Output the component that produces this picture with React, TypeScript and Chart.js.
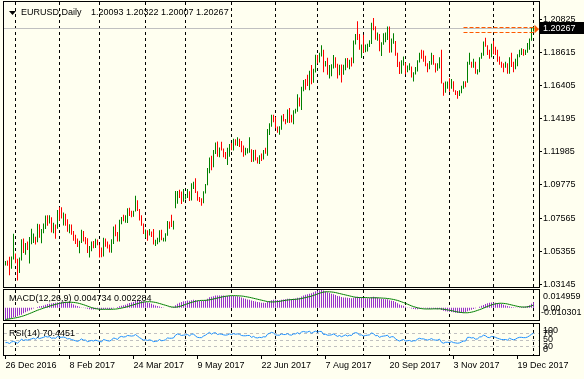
import React, { useEffect, useRef } from "react";
import { Chart, registerables } from "chart.js";

Chart.register(...registerables);

// ---------------- DATA ----------------
const symbol = "EURUSD,Daily";
const firstOpen = 1.045;

const highs = [
  1.0470,1.0474,1.0498,1.0500,1.0652,1.0520,1.0485,1.0494,1.0615,1.0620,
  1.0590,1.0600,1.0630,1.0685,1.0653,1.0632,1.0719,1.0716,1.0683,1.0721,
  1.0774,1.0775,1.0775,1.0762,1.0726,1.0713,1.0810,1.0829,1.0829,1.0793,
  1.0785,1.0749,1.0716,1.0713,1.0670,1.0645,1.0621,1.0606,1.0679,1.0670,
  1.0630,1.0622,1.0570,1.0600,1.0603,1.0618,1.0613,1.0578,1.0560,1.0626,
  1.0620,1.0600,1.0580,1.0615,1.0700,1.0713,1.0663,1.0746,1.0764,1.0779,
  1.0775,1.0822,1.0826,1.0805,1.0805,1.0906,1.0875,1.0817,1.0775,1.0720,
  1.0680,1.0675,1.0683,1.0667,1.0683,1.0612,1.0626,1.0675,1.0678,1.0625,
  1.0655,1.0737,1.0734,1.0778,1.0738,1.0937,1.0937,1.0946,1.0933,1.0950,
  1.0909,1.0950,1.0935,1.0988,1.0998,1.1022,1.0935,1.0897,1.0888,1.0936,
  1.0984,1.1090,1.1160,1.1172,1.1211,1.1260,1.1268,1.1227,1.1265,1.1220,
  1.1198,1.1225,1.1250,1.1257,1.1285,1.1282,1.1296,1.1285,1.1270,1.1240,
  1.1225,1.1223,1.1296,1.1215,1.1210,1.1213,1.1163,1.1175,1.1188,1.1210,
  1.1225,1.1350,1.1389,1.1445,1.1446,1.1430,1.1368,1.1369,1.1440,1.1450,
  1.1418,1.1480,1.1490,1.1445,1.1475,1.1486,1.1583,1.1560,1.1632,1.1678,
  1.1685,1.1712,1.1740,1.1777,1.1752,1.1846,1.1845,1.1860,1.1910,1.1880,
  1.1805,1.1826,1.1778,1.1783,1.1845,1.1830,1.1786,1.1780,1.1781,1.1780,
  1.1822,1.1825,1.1812,1.1828,1.1941,1.1984,1.2070,1.1985,1.1915,1.1980,
  1.1915,1.1920,1.1942,1.2060,1.2092,1.2036,1.1995,1.1985,1.1930,1.1990,
  1.1995,1.2035,1.2035,1.1955,1.1990,1.1938,1.1860,1.1800,1.1810,1.1835,
  1.1795,1.1775,1.1790,1.1768,1.1730,1.1765,1.1810,1.1860,1.1880,1.1875,
  1.1840,1.1790,1.1805,1.1860,1.1845,1.1790,1.1790,1.1830,1.1880,1.1660,
  1.1668,1.1668,1.1690,1.1685,1.1670,1.1610,1.1605,1.1610,1.1640,1.1670,
  1.1670,1.1800,1.1860,1.1800,1.1820,1.1800,1.1750,1.1830,1.1860,1.1935,
  1.1960,1.1910,1.1880,1.1920,1.1940,1.1900,1.1880,1.1835,1.1800,1.1790,
  1.1800,1.1790,1.1830,1.1860,1.1800,1.1820,1.1850,1.1880,1.1890,1.1885,
  1.1880,1.1925,1.1955,1.2030,1.20322,
];

const lows = [
  1.0440,1.0438,1.0375,1.0418,1.0480,1.0455,1.0340,1.0390,1.0474,1.0523,
  1.0512,1.0543,1.0453,1.0582,1.0590,1.0580,1.0596,1.0625,1.0589,1.0656,
  1.0683,1.0705,1.0720,1.0660,1.0656,1.0618,1.0685,1.0738,1.0753,1.0707,
  1.0706,1.0666,1.0656,1.0645,1.0605,1.0583,1.0563,1.0521,1.0590,1.0601,
  1.0581,1.0523,1.0494,1.0535,1.0555,1.0556,1.0575,1.0494,1.0495,1.0500,
  1.0565,1.0554,1.0526,1.0525,1.0584,1.0635,1.0600,1.0600,1.0715,1.0735,
  1.0725,1.0723,1.0770,1.0762,1.0766,1.0800,1.0803,1.0740,1.0705,1.0650,
  1.0626,1.0605,1.0640,1.0630,1.0580,1.0570,1.0582,1.0596,1.0609,1.0600,
  1.0600,1.0638,1.0685,1.0697,1.0680,1.0822,1.0852,1.0890,1.0851,1.0866,
  1.0880,1.0891,1.0870,1.0873,1.0951,1.0924,1.0872,1.0864,1.0838,1.0855,
  1.0921,1.0976,1.1055,1.1075,1.1095,1.1184,1.1166,1.1162,1.1207,1.1163,
  1.1150,1.1110,1.1165,1.1209,1.1208,1.1241,1.1238,1.1231,1.1195,1.1165,
  1.1175,1.1187,1.1193,1.1130,1.1133,1.1140,1.1120,1.1118,1.1137,1.1147,
  1.1185,1.1173,1.1310,1.1365,1.1395,1.1355,1.1325,1.1312,1.1346,1.1400,
  1.1382,1.1392,1.1390,1.1394,1.1383,1.1454,1.1465,1.1500,1.1478,1.1603,
  1.1612,1.1638,1.1610,1.1650,1.1660,1.1727,1.1788,1.1795,1.1835,1.1729,
  1.1768,1.1713,1.1688,1.1703,1.1755,1.1760,1.1688,1.1710,1.1661,1.1713,
  1.1742,1.1760,1.1750,1.1768,1.1790,1.1915,1.1945,1.1880,1.1825,1.1860,
  1.1862,1.1868,1.1898,1.1917,1.2010,1.1946,1.1940,1.1870,1.1837,1.1913,
  1.1930,1.1945,1.1860,1.1861,1.1920,1.1840,1.1764,1.1717,1.1720,1.1774,
  1.1716,1.1730,1.1743,1.1695,1.1668,1.1715,1.1735,1.1795,1.1820,1.1800,
  1.1770,1.1730,1.1750,1.1780,1.1780,1.1727,1.1740,1.1755,1.1655,1.1573,
  1.1592,1.1620,1.1600,1.1620,1.1600,1.1577,1.1553,1.1570,1.1590,1.1620,
  1.1630,1.1660,1.1780,1.1760,1.1760,1.1720,1.1715,1.1730,1.1820,1.1840,
  1.1900,1.1845,1.1820,1.1830,1.1850,1.1845,1.1800,1.1780,1.1760,1.1730,
  1.1760,1.1720,1.1720,1.1765,1.1730,1.1750,1.1770,1.1830,1.1845,1.1840,
  1.1845,1.1860,1.1880,1.1940,1.20007,
];

const closes = [
  1.0456,1.0454,1.0410,1.0494,1.0517,1.0457,1.0403,1.0487,1.0605,1.0531,
  1.0575,1.0555,1.0585,1.0613,1.0644,1.0605,1.0710,1.0633,1.0661,1.0702,
  1.0757,1.0728,1.0748,1.0678,1.0697,1.0690,1.0797,1.0765,1.0762,1.0784,
  1.0748,1.0685,1.0700,1.0665,1.0640,1.0600,1.0577,1.0602,1.0670,1.0616,
  1.0614,1.0542,1.0562,1.0588,1.0562,1.0606,1.0575,1.0545,1.0505,1.0620,
  1.0585,1.0566,1.0544,1.0581,1.0673,1.0653,1.0604,1.0734,1.0762,1.0736,
  1.0742,1.0808,1.0797,1.0783,1.0798,1.0865,1.0815,1.0765,1.0717,1.0652,
  1.0667,1.0640,1.0665,1.0643,1.0590,1.0599,1.0610,1.0665,1.0613,1.0617,
  1.0643,1.0730,1.0715,1.0714,1.0726,1.0856,1.0930,1.0908,1.0872,1.0895,
  1.0903,1.0930,1.0880,1.0982,1.0997,1.0926,1.0875,1.0870,1.0864,1.0932,
  1.0980,1.1080,1.1158,1.1100,1.1207,1.1245,1.1180,1.1218,1.1213,1.1180,
  1.1163,1.1180,1.1244,1.1215,1.1280,1.1255,1.1278,1.1260,1.1213,1.1196,
  1.1200,1.1210,1.1215,1.1150,1.1197,1.1150,1.1132,1.1165,1.1152,1.1195,
  1.1185,1.1335,1.1375,1.1444,1.1425,1.1362,1.1347,1.1350,1.1421,1.1400,
  1.1398,1.1467,1.1415,1.1398,1.1469,1.1477,1.1557,1.1514,1.1632,1.1665,
  1.1645,1.1644,1.1738,1.1677,1.1750,1.1836,1.1805,1.1858,1.1865,1.1774,
  1.1793,1.1753,1.1756,1.1765,1.1820,1.1780,1.1730,1.1770,1.1725,1.1760,
  1.1815,1.1760,1.1808,1.1798,1.1925,1.1978,1.1968,1.1886,1.1910,1.1860,
  1.1890,1.1915,1.1920,1.2055,1.2035,1.1950,1.1966,1.1885,1.1920,1.1943,
  1.1950,1.1994,1.1893,1.1940,1.1950,1.1850,1.1790,1.1745,1.1785,1.1815,
  1.1732,1.1745,1.1760,1.1710,1.1730,1.1735,1.1808,1.1855,1.1825,1.1820,
  1.1790,1.1765,1.1790,1.1840,1.1785,1.1760,1.1762,1.1815,1.1655,1.1608,
  1.1640,1.1645,1.1620,1.1660,1.1610,1.1600,1.1590,1.1595,1.1630,1.1665,
  1.1662,1.1795,1.1796,1.1770,1.1790,1.1725,1.1738,1.1826,1.1845,1.1930,
  1.1910,1.1845,1.1840,1.1905,1.1895,1.1865,1.1830,1.1795,1.1775,1.1770,
  1.1775,1.1740,1.1825,1.1780,1.1750,1.1785,1.1840,1.1870,1.1873,1.1860,
  1.1865,1.1890,1.1945,1.20093,1.20267,
];

// MACD(12,26,9) main (histogram) and signal, in units of 0.0001
const macdMain = [
  -103.01,-98,-92,-88,-80,-75,-72,-64,-58,-47,-38,-30,-22,-14,-7,0,
  6,12,14,20,26,32,34,36,40,42,45,48,
  50,51,50,48,42,35,28,20,14,8,
  3,-1,-4,-9,-13,-14,-14,-12,-11,-13,-16,-12,-11,-12,-14,-11,-4,0,6,
  12,18,22,26,34,40,44,48,56,60,61,58,52,48,
  45,40,34,26,20,14,10,6,3,1,0,3,5,8,
  22,34,42,48,54,58,61,60,64,68,66,62,58,56,60,66,
  76,88,92,98,104,104,104,104,103,100,100,102,100,100,98,96,92,86,80,76,
  70,68,62,58,53,48,46,42,42,40,48,56,64,68,68,66,64,68,70,72,
  76,76,74,76,78,84,84,94,104,110,114,118,122,130,140,144,148,149.59,146,138,
  130,124,118,114,108,100,96,90,86,86,84,82,80,84,90,92,88,86,82,80,
  80,80,88,92,88,84,78,76,74,72,72,64,60,56,48,38,28,22,16,8,
  2,-2,-6,-10,-12,-12,-8,-6,-5,-7,-9,-10,-8,-9,-11,-12,-10,-18,-26,-30,
  -32,-34,-35,-38,-41,-44,-45,-44,-42,-38,-30,-22,-16,-10,-5,0,8,16,24,32,
  38,42,44,44,42,40,36,32,26,20,14,10,6,4,2,2,4,6,8,10,14,22,33,47.34,
];

const macdSignal = [
  -98,-96,-94,-91,-88,-85,-82,-78,-73,-68,-62,-56,-49,-42,-35,-28,
  -21,-15,-9,-3,2,8,14,19,24,28,33,37,
  40,43,45,46,47,46,45,43,40,36,
  31,26,20,14,8,2,-3,-7,-10,-12,-13,-13,-13,-13,-13,-13,-12,-11,-9,
  -6,-3,1,5,10,15,20,25,30,35,40,44,48,50,
  51,51,50,48,45,41,36,31,26,21,16,11,7,5,
  5,7,11,16,22,28,34,40,45,50,54,58,61,62,62,63,
  64,67,70,74,78,82,86,90,94,97,99,101,102,102,102,101,100,99,97,94,
  91,88,84,80,76,72,68,64,60,56,52,50,49,49,50,52,54,57,60,63,
  65,67,69,70,71,73,75,78,82,86,90,94,98,104,110,116,122,128,132,134,
  135,134,133,131,128,124,120,116,112,108,104,100,96,92,89,87,86,86,86,86,
  85,84,84,84,84,84,83,82,81,80,78,76,73,70,66,62,56,50,44,37,
  30,23,16,10,5,0,-4,-7,-9,-10,-10,-10,-10,-9,-9,-9,-9,-10,-12,-15,
  -18,-21,-24,-28,-32,-35,-38,-40,-42,-42,-42,-40,-37,-33,-28,-22,-16,-10,-3,4,
  11,18,24,29,33,36,38,38,37,35,32,28,24,20,16,12,9,7,6,6,8,11,16,22.84,
];

const rsi = [
  40,40,37,42,44,41,38,44,51,47, 49,48,50,52,54,51,57,53,55,57,
  60,58,59,54,55,54,60,57,57,58, 56,52,53,50,48,46,44,47,52,48,
  48,43,45,47,45,48,46,44,42,50, 48,46,45,48,55,53,50,58,60,58,
  59,63,62,61,62,66,61,56,52,48, 49,47,49,47,43,44,45,50,46,47,
  49,55,54,54,55,64,68,66,63,64, 65,66,62,67,68,61,57,56,56,61,
  64,69,73,67,71,72,66,68,67,65, 64,65,68,66,69,67,68,67,63,62,
  62,63,63,57,60,56,55,57,56,59, 58,67,70,73,71,65,64,64,68,66,
  66,69,65,64,68,68,72,68,74,76, 74,74,77,70,74,77,74,76,76,66,
  67,64,64,65,68,64,60,63,59,62, 65,61,64,63,70,72,71,64,65,61,
  63,64,65,71,69,62,63,57,60,61, 62,64,56,59,59,52,48,45,48,50,
  45,46,47,44,46,46,51,54,52,52, 50,48,50,53,49,48,48,51,41,38,
  41,41,40,43,40,39,38,39,42,45, 45,57,57,55,56,51,52,58,59,64,
  62,57,56,60,59,57,54,52,50,50, 50,48,54,51,49,51,55,57,57,56,
  56,58,62,67,70.4451,
];
const rsiLevels = [30, 50, 70];
const rsiAxisLabels = [100, 70, 50, 30, 0];

const priceTicks = [1.03145, 1.05355, 1.07565, 1.09775, 1.11985, 1.14195, 1.16405, 1.18615, 1.20825];
const timeTickIndex = [0, 32, 64, 96, 128, 160, 192, 224, 256];
const timeTickLabels = ["26 Dec 2016", "8 Feb 2017", "24 Mar 2017", "9 May 2017", "22 Jun 2017", "7 Aug 2017", "20 Sep 2017", "3 Nov 2017", "19 Dec 2017"];
const monthStartIndex = [5, 27, 47, 70, 90, 113, 135, 156, 179, 200, 222, 244, 264];
const levelStartIndex = 229;

// ---------------- STYLE / LAYOUT ----------------
const W = 584, H = 379;
const FONT = "'Liberation Sans', Arial, sans-serif";
const BG = "#FFFFF0";
const UP = "#008000";
const DOWN = "#FF0000";
const MACD_COLOR = "#9932CC";
const SIGNAL_COLOR = "#008000";
const RSI_COLOR = "#1E90FF";
const LEVEL_COLOR = "#FF5A00";
const X_MIN = -0.75, X_MAX = 266.75;
const P_MAX = 1.219791, P_MIN = 1.029664;
const AXIS_W = 45;

const N = closes.length;
const opens = closes.map((c, i) => (i === 0 ? firstOpen : closes[i - 1]));

function noPad(s: any) {
  s.paddingTop = 0;
  s.paddingBottom = 0;
  s.paddingLeft = 0;
  s.paddingRight = 0;
}

function monthLines(chart: any) {
  const { ctx, chartArea: a, scales } = chart;
  ctx.save();
  ctx.strokeStyle = "#000";
  ctx.lineWidth = 1;
  ctx.setLineDash([3, 3]);
  for (const idx of monthStartIndex) {
    const px = Math.floor(scales.x.getPixelForValue(idx)) + 0.5;
    ctx.beginPath();
    ctx.moveTo(px, a.top);
    ctx.lineTo(px, a.bottom);
    ctx.stroke();
  }
  ctx.restore();
}

function frame(chart: any) {
  const { ctx, chartArea: a } = chart;
  ctx.save();
  ctx.strokeStyle = "#000";
  ctx.lineWidth = 1;
  ctx.setLineDash([]);
  const l = Math.round(a.left) - 0.5;
  const t = Math.round(a.top) - 0.5;
  ctx.strokeRect(l, t, Math.round(a.right) - Math.round(a.left) + 1, Math.round(a.bottom) - Math.round(a.top) + 1);
  ctx.restore();
}

function text(ctx: any, s: string, x: number, y: number, color = "#000", align = "left") {
  ctx.save();
  ctx.font = `9px ${FONT}`;
  ctx.fillStyle = color;
  ctx.textAlign = align;
  ctx.textBaseline = "middle";
  ctx.fillText(s, x, y);
  ctx.restore();
}

const mainOverlay = {
  id: "mainOverlay",
  beforeDatasetsDraw(chart: any) {
    const { ctx, chartArea: a, scales } = chart;
    monthLines(chart);
    const yb = Math.round(scales.y.getPixelForValue(closes[N - 1])) + 0.5;
    ctx.save();
    ctx.strokeStyle = "#C0C0C0";
    ctx.lineWidth = 1;
    ctx.beginPath();
    ctx.moveTo(a.left, yb);
    ctx.lineTo(a.right, yb);
    ctx.stroke();
    ctx.restore();
  },
  afterDatasetsDraw(chart: any) {
    const { ctx, chartArea: a, scales } = chart;
    const x = scales.x, y = scales.y;
    const x0 = x.getPixelForValue(levelStartIndex);
    const x1 = x.getPixelForValue(N - 1) + 1;
    ctx.save();
    ctx.strokeStyle = LEVEL_COLOR;
    ctx.lineWidth = 1;
    ctx.setLineDash([4, 2]);
    for (const v of [highs[N - 1], lows[N - 1]]) {
      const py = Math.round(y.getPixelForValue(v)) + 0.5;
      ctx.beginPath();
      ctx.moveTo(x0, py);
      ctx.lineTo(x1, py);
      ctx.stroke();
    }
    ctx.setLineDash([]);
    const yh = y.getPixelForValue(highs[N - 1]);
    const yl = y.getPixelForValue(lows[N - 1]);
    ctx.fillStyle = LEVEL_COLOR;
    ctx.beginPath();
    ctx.moveTo(x1, yh - 2);
    ctx.lineTo(a.right, (yh + yl) / 2);
    ctx.lineTo(x1, yl + 2);
    ctx.closePath();
    ctx.fill();
    ctx.restore();

    frame(chart);

    ctx.save();
    ctx.fillStyle = "#000";
    ctx.beginPath();
    ctx.moveTo(9, 11);
    ctx.lineTo(16, 11);
    ctx.lineTo(12.5, 15);
    ctx.closePath();
    ctx.fill();
    ctx.restore();
    text(ctx, symbol, 21, 13);
    text(ctx, [opens[N - 1], highs[N - 1], lows[N - 1], closes[N - 1]].map((v) => v.toFixed(5)).join(" "), 91, 13);

    const yc = Math.round(y.getPixelForValue(closes[N - 1]));
    ctx.save();
    ctx.fillStyle = "#000";
    ctx.fillRect(a.right + 1, yc - 6, W - a.right - 1, 12);
    ctx.restore();
    text(ctx, closes[N - 1].toFixed(5), a.right + 4, yc + 0.5, "#fff");
  },
};

const macdOverlay = {
  id: "macdOverlay",
  beforeDatasetsDraw(chart: any) {
    monthLines(chart);
  },
  afterDatasetsDraw(chart: any) {
    const { ctx, chartArea: a, scales } = chart;
    frame(chart);
    const hi = Math.max(...macdMain, ...macdSignal) * 1e-4;
    const lo = Math.min(...macdMain, ...macdSignal) * 1e-4;
    text(ctx, `MACD(12,26,9) ${(macdMain[N - 1] * 1e-4).toFixed(6)} ${(macdSignal[N - 1] * 1e-4).toFixed(6)}`, 9, a.top + 8.5);
    text(ctx, hi.toFixed(6), a.right + 4, a.top + 6.5);
    text(ctx, "0.00", a.right + 4, scales.y.getPixelForValue(0) + 1);
    text(ctx, lo.toFixed(6), a.right + 2, a.bottom - 7.5);
  },
};

const rsiOverlay = {
  id: "rsiOverlay",
  beforeDatasetsDraw(chart: any) {
    const { ctx, chartArea: a, scales } = chart;
    monthLines(chart);
    ctx.save();
    ctx.strokeStyle = "#C0C0C0";
    ctx.lineWidth = 1;
    ctx.setLineDash([3, 3]);
    for (const v of rsiLevels) {
      const py = Math.round(scales.y.getPixelForValue(v)) + 0.5;
      ctx.beginPath();
      ctx.moveTo(a.left, py);
      ctx.lineTo(a.right, py);
      ctx.stroke();
    }
    ctx.restore();
  },
  afterDatasetsDraw(chart: any) {
    const { ctx, chartArea: a, scales } = chart;
    frame(chart);
    text(ctx, `RSI(14) ${rsi[N - 1].toFixed(4)}`, 9, a.top + 9.5);
    for (const v of rsiAxisLabels) {
      let py = scales.y.getPixelForValue(v);
      if (v === 100) py += 6;
      else if (v === 0) py -= 5.5;
      text(ctx, String(v), a.right + 4, py + 0.5);
    }
  },
};

const baseOptions = (padTop: number, padBottom: number) => ({
  responsive: false,
  maintainAspectRatio: false,
  animation: false as const,
  devicePixelRatio: 1,
  events: [] as any[],
  layout: { autoPadding: false, padding: { left: 4, top: padTop, right: 0, bottom: padBottom } },
  plugins: { legend: { display: false }, tooltip: { enabled: false } },
});

const hiddenX = () => ({ type: "linear", display: false, offset: false, min: X_MIN, max: X_MAX, grid: { offset: false } });

function mainConfig(): any {
  const data = closes.map((c, i) => ({ x: i, y: [lows[i], highs[i]] }));
  const colors = closes.map((c, i) => (c >= opens[i] ? UP : DOWN));
  return {
    type: "bar",
    data: {
      datasets: [
        { data, backgroundColor: colors, borderWidth: 0, barThickness: 1, inflateAmount: 0 },
      ],
    },
    options: {
      ...baseOptions(2, H - 287),
      scales: {
        x: hiddenX(),
        y: {
          type: "linear",
          position: "right",
          min: P_MIN,
          max: P_MAX,
          afterFit: (s: any) => { s.width = AXIS_W; noPad(s); },
          afterBuildTicks: (s: any) => { s.ticks = priceTicks.map((v) => ({ value: v })); },
          ticks: { autoSkip: false, padding: 1, color: "#000", font: { family: FONT, size: 9 }, callback: (v: any) => Number(v).toFixed(5) },
          grid: { drawOnChartArea: false, drawTicks: true, tickLength: 3, color: "#000" },
          border: { display: false },
        },
      },
    },
    plugins: [mainOverlay],
  };
}

function macdConfig(): any {
  const hi = Math.max(...macdMain, ...macdSignal);
  const lo = Math.min(...macdMain, ...macdSignal);
  return {
    type: "bar",
    data: {
      datasets: [
        { type: "line", order: 0, data: macdSignal.map((v, i) => ({ x: i, y: v })), borderColor: SIGNAL_COLOR, borderWidth: 1, pointRadius: 0, tension: 0, fill: false },
        { type: "bar", order: 1, data: macdMain.map((v, i) => ({ x: i, y: v })), backgroundColor: MACD_COLOR, borderWidth: 0, barThickness: 1, inflateAmount: 0 },
      ],
    },
    options: {
      ...baseOptions(290, H - 320),
      scales: {
        x: hiddenX(),
        y: {
          type: "linear",
          position: "right",
          min: lo,
          max: hi,
          afterFit: (s: any) => { s.width = AXIS_W; noPad(s); },
          ticks: { display: false },
          grid: { display: false },
          border: { display: false },
        },
      },
    },
    plugins: [macdOverlay],
  };
}

function rsiConfig(): any {
  return {
    type: "line",
    data: {
      datasets: [
        { data: rsi.map((v, i) => ({ x: i, y: v })), borderColor: RSI_COLOR, borderWidth: 1, pointRadius: 0, tension: 0, fill: false },
      ],
    },
    options: {
      ...baseOptions(324, 0),
      scales: {
        x: {
          type: "linear",
          position: "bottom",
          offset: false,
          min: X_MIN,
          max: X_MAX,
          afterFit: (s: any) => { s.height = 24; noPad(s); },
          afterBuildTicks: (s: any) => { s.ticks = timeTickIndex.map((v) => ({ value: v })); },
          ticks: {
            autoSkip: false, maxRotation: 0, minRotation: 0, align: "start", padding: 1, color: "#000",
            font: { family: FONT, size: 9 },
            callback: (v: any, i: number) => timeTickLabels[i],
          },
          grid: { drawOnChartArea: false, drawTicks: true, tickLength: 4, color: "#000", offset: false },
          border: { display: false },
        },
        y: {
          type: "linear",
          position: "right",
          min: 0,
          max: 100,
          afterFit: (s: any) => { s.width = AXIS_W; noPad(s); },
          ticks: { display: false },
          grid: { display: false },
          border: { display: false },
        },
      },
    },
    plugins: [rsiOverlay],
  };
}

export default function App() {
  const mainRef = useRef<HTMLCanvasElement>(null);
  const macdRef = useRef<HTMLCanvasElement>(null);
  const rsiRef = useRef<HTMLCanvasElement>(null);

  useEffect(() => {
    Chart.defaults.font.family = FONT;
    Chart.defaults.font.size = 9;
    Chart.defaults.color = "#000";
    const charts = [
      new Chart(mainRef.current as HTMLCanvasElement, mainConfig()),
      new Chart(macdRef.current as HTMLCanvasElement, macdConfig()),
      new Chart(rsiRef.current as HTMLCanvasElement, rsiConfig()),
    ];
    return () => charts.forEach((c) => c.destroy());
  }, []);

  const cs: React.CSSProperties = { position: "absolute", left: 0, top: 0, width: W, height: H };
  return (
    <div style={{ position: "fixed", left: 0, top: 0, width: W, height: H, background: BG, overflow: "hidden" }}>
      <canvas ref={mainRef} width={W} height={H} style={cs} />
      <canvas ref={macdRef} width={W} height={H} style={cs} />
      <canvas ref={rsiRef} width={W} height={H} style={cs} />
    </div>
  );
}
